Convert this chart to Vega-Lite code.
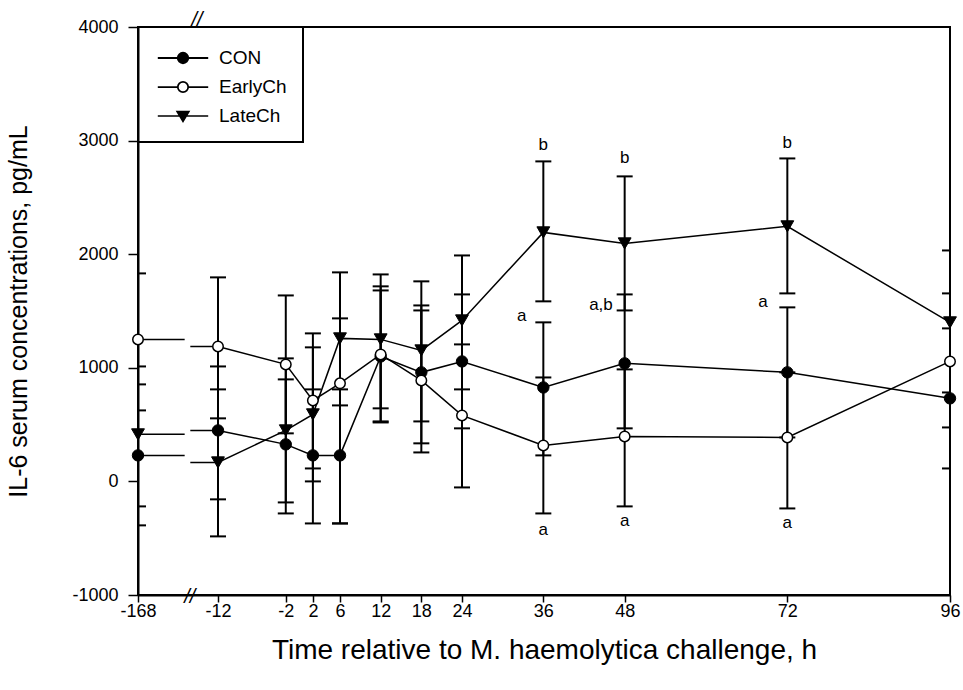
{
  "$schema": "https://vega.github.io/schema/vega-lite/v6.json",
  "width": 812,
  "height": 568,
  "autosize": {"type": "none"},
  "padding": {"left": 138, "top": 27, "right": 13, "bottom": 95},
  "background": "white",
  "datasets": {
    "pts": [
      {"g": "CON", "t": -168, "v": 229, "lo": -387, "hi": 854},
      {"g": "CON", "t": -12, "v": 449, "lo": -158, "hi": 1012},
      {"g": "CON", "t": -2, "v": 326, "lo": -282, "hi": 898},
      {"g": "CON", "t": 2, "v": 229, "lo": -370, "hi": 810},
      {"g": "CON", "t": 6, "v": 229, "lo": -370, "hi": 810},
      {"g": "CON", "t": 12, "v": 1100, "lo": 519, "hi": 1681},
      {"g": "CON", "t": 18, "v": 960, "lo": 335, "hi": 1549},
      {"g": "CON", "t": 24, "v": 1056, "lo": 467, "hi": 1646},
      {"g": "CON", "t": 36, "v": 827, "lo": 229, "hi": 1400},
      {"g": "CON", "t": 48, "v": 1039, "lo": 467, "hi": 1646},
      {"g": "CON", "t": 72, "v": 960, "lo": 387, "hi": 1532},
      {"g": "CON", "t": 96, "v": 731, "lo": 114, "hi": 1347},
      {"g": "EarlyCh", "t": -168, "v": 1250, "lo": 625, "hi": 1831},
      {"g": "EarlyCh", "t": -12, "v": 1188, "lo": 555, "hi": 1796},
      {"g": "EarlyCh", "t": -2, "v": 1030, "lo": 423, "hi": 1637},
      {"g": "EarlyCh", "t": 2, "v": 713, "lo": 114, "hi": 1303},
      {"g": "EarlyCh", "t": 6, "v": 863, "lo": 669, "hi": 1435},
      {"g": "EarlyCh", "t": 12, "v": 1118, "lo": 528, "hi": 1822},
      {"g": "EarlyCh", "t": 18, "v": 889, "lo": 255, "hi": 1505},
      {"g": "EarlyCh", "t": 24, "v": 581, "lo": -53, "hi": 1206},
      {"g": "EarlyCh", "t": 36, "v": 317, "lo": -282, "hi": 915},
      {"g": "EarlyCh", "t": 48, "v": 396, "lo": -220, "hi": 986},
      {"g": "EarlyCh", "t": 72, "v": 387, "lo": -238, "hi": 960},
      {"g": "EarlyCh", "t": 96, "v": 1056, "lo": 475, "hi": 1655},
      {"g": "LateCh", "t": -168, "v": 414, "lo": -220, "hi": 1012},
      {"g": "LateCh", "t": -12, "v": 167, "lo": -484, "hi": 810},
      {"g": "LateCh", "t": -2, "v": 449, "lo": -185, "hi": 1083},
      {"g": "LateCh", "t": 2, "v": 590, "lo": 0, "hi": 1180},
      {"g": "LateCh", "t": 6, "v": 1259, "lo": -370, "hi": 1840},
      {"g": "LateCh", "t": 12, "v": 1250, "lo": 643, "hi": 1717},
      {"g": "LateCh", "t": 18, "v": 1153, "lo": 528, "hi": 1761},
      {"g": "LateCh", "t": 24, "v": 1417, "lo": 810, "hi": 1989},
      {"g": "LateCh", "t": 36, "v": 2192, "lo": 1585, "hi": 2817},
      {"g": "LateCh", "t": 48, "v": 2095, "lo": 1505, "hi": 2685},
      {"g": "LateCh", "t": 72, "v": 2245, "lo": 1655, "hi": 2843},
      {"g": "LateCh", "t": 96, "v": 1400, "lo": 783, "hi": 2033}
    ],
    "ln": [
      {"g": "CON", "s": "L", "t": -168, "v": 229},
      {"g": "CON", "s": "L", "t": -77, "v": 229},
      {"g": "CON", "s": "R", "t": -66, "v": 449},
      {"g": "CON", "s": "R", "t": -12, "v": 449},
      {"g": "CON", "s": "R", "t": -2, "v": 326},
      {"g": "CON", "s": "R", "t": 2, "v": 229},
      {"g": "CON", "s": "R", "t": 6, "v": 229},
      {"g": "CON", "s": "R", "t": 12, "v": 1100},
      {"g": "CON", "s": "R", "t": 18, "v": 960},
      {"g": "CON", "s": "R", "t": 24, "v": 1056},
      {"g": "CON", "s": "R", "t": 36, "v": 827},
      {"g": "CON", "s": "R", "t": 48, "v": 1039},
      {"g": "CON", "s": "R", "t": 72, "v": 960},
      {"g": "CON", "s": "R", "t": 96, "v": 731},
      {"g": "EarlyCh", "s": "L", "t": -168, "v": 1250},
      {"g": "EarlyCh", "s": "L", "t": -77, "v": 1250},
      {"g": "EarlyCh", "s": "R", "t": -66, "v": 1188},
      {"g": "EarlyCh", "s": "R", "t": -12, "v": 1188},
      {"g": "EarlyCh", "s": "R", "t": -2, "v": 1030},
      {"g": "EarlyCh", "s": "R", "t": 2, "v": 713},
      {"g": "EarlyCh", "s": "R", "t": 6, "v": 863},
      {"g": "EarlyCh", "s": "R", "t": 12, "v": 1118},
      {"g": "EarlyCh", "s": "R", "t": 18, "v": 889},
      {"g": "EarlyCh", "s": "R", "t": 24, "v": 581},
      {"g": "EarlyCh", "s": "R", "t": 36, "v": 317},
      {"g": "EarlyCh", "s": "R", "t": 48, "v": 396},
      {"g": "EarlyCh", "s": "R", "t": 72, "v": 387},
      {"g": "EarlyCh", "s": "R", "t": 96, "v": 1056},
      {"g": "LateCh", "s": "L", "t": -168, "v": 414},
      {"g": "LateCh", "s": "L", "t": -77, "v": 414},
      {"g": "LateCh", "s": "R", "t": -66, "v": 167},
      {"g": "LateCh", "s": "R", "t": -12, "v": 167},
      {"g": "LateCh", "s": "R", "t": -2, "v": 449},
      {"g": "LateCh", "s": "R", "t": 2, "v": 590},
      {"g": "LateCh", "s": "R", "t": 6, "v": 1259},
      {"g": "LateCh", "s": "R", "t": 12, "v": 1250},
      {"g": "LateCh", "s": "R", "t": 18, "v": 1153},
      {"g": "LateCh", "s": "R", "t": 24, "v": 1417},
      {"g": "LateCh", "s": "R", "t": 36, "v": 2192},
      {"g": "LateCh", "s": "R", "t": 48, "v": 2095},
      {"g": "LateCh", "s": "R", "t": 72, "v": 2245},
      {"g": "LateCh", "s": "R", "t": 96, "v": 1400}
    ],
    "notes": [
      {"t": 36, "v": 2958, "label": "b"},
      {"t": 32.8, "v": 1452, "label": "a"},
      {"t": 36, "v": -431, "label": "a"},
      {"t": 48, "v": 2843, "label": "b"},
      {"t": 44.5, "v": 1549, "label": "a,b"},
      {"t": 48, "v": -352, "label": "a"},
      {"t": 72, "v": 2975, "label": "b"},
      {"t": 68.4, "v": 1576, "label": "a"},
      {"t": 72, "v": -370, "label": "a"}
    ],
    "brk": [
      {"t": -53, "v": 4058, "label": "//"},
      {"t": -67, "v": -1021, "label": "//"}
    ]
  },
  "encoding": {
    "x": {
      "field": "t",
      "type": "quantitative",
      "scale": {"type": "linear", "domain": [-168, -12, 96], "range": [0, 80, 812], "nice": false, "zero": false},
      "axis": {
        "values": [-168, -12, -2, 2, 6, 12, 18, 24, 36, 48, 72, 96],
        "labelExpr": "'' + datum.value",
        "tickSize": 7,
        "labelPadding": 0,
        "labelFlush": false,
        "labelOverlap": false,
        "labelFontSize": 18,
        "title": "Time relative to M. haemolytica challenge, h",
        "titleFontSize": 28,
        "titlePadding": 16
      }
    }
  },
  "layer": [
    {
      "data": {"name": "pts"},
      "mark": {"type": "rule", "color": "black", "strokeWidth": 2, "clip": true},
      "encoding": {
        "y": {
          "field": "lo",
          "type": "quantitative",
          "scale": {"domain": [-1000, 4000], "nice": false, "zero": false},
          "axis": {"values": [-1000, 0, 1000, 2000, 3000, 4000], "labelExpr": "'' + datum.value", "tickSize": 10, "labelPadding": 10, "labelFontSize": 18, "title": "IL-6 serum concentrations, pg/mL", "titleFontSize": 25, "titlePadding": 40}
        },
        "y2": {"field": "hi"},
        "detail": {"field": "g"}
      }
    },
    {
      "data": {"name": "pts"},
      "mark": {"type": "tick", "orient": "horizontal", "color": "black", "size": 16, "thickness": 2, "opacity": 1, "clip": true},
      "encoding": {
        "y": {"field": "lo", "type": "quantitative", "scale": {"domain": [-1000, 4000], "nice": false, "zero": false},
          "axis": {"values": [-1000, 0, 1000, 2000, 3000, 4000], "labelExpr": "'' + datum.value", "tickSize": 10, "labelPadding": 10, "labelFontSize": 18, "title": "IL-6 serum concentrations, pg/mL", "titleFontSize": 25, "titlePadding": 40}},
        "detail": {"field": "g"}
      }
    },
    {
      "data": {"name": "pts"},
      "mark": {"type": "tick", "orient": "horizontal", "color": "black", "size": 16, "thickness": 2, "opacity": 1, "clip": true},
      "encoding": {
        "y": {"field": "hi", "type": "quantitative", "scale": {"domain": [-1000, 4000], "nice": false, "zero": false},
          "axis": {"values": [-1000, 0, 1000, 2000, 3000, 4000], "labelExpr": "'' + datum.value", "tickSize": 10, "labelPadding": 10, "labelFontSize": 18, "title": "IL-6 serum concentrations, pg/mL", "titleFontSize": 25, "titlePadding": 40}},
        "detail": {"field": "g"}
      }
    },
    {
      "data": {"name": "ln"},
      "mark": {"type": "line", "color": "black", "strokeWidth": 1.5},
      "encoding": {
        "y": {"field": "v", "type": "quantitative", "scale": {"domain": [-1000, 4000], "nice": false, "zero": false},
          "axis": {"values": [-1000, 0, 1000, 2000, 3000, 4000], "labelExpr": "'' + datum.value", "tickSize": 10, "labelPadding": 10, "labelFontSize": 18, "title": "IL-6 serum concentrations, pg/mL", "titleFontSize": 25, "titlePadding": 40}},
        "detail": [{"field": "g"}, {"field": "s"}],
        "order": {"field": "t", "type": "quantitative"}
      }
    },
    {
      "data": {"name": "pts"},
      "transform": [{"filter": "datum.g === 'CON'"}],
      "mark": {"type": "point", "shape": "circle", "filled": true, "fill": "black", "stroke": "black", "strokeWidth": 1, "size": 130, "opacity": 1},
      "encoding": {
        "y": {"field": "v", "type": "quantitative", "scale": {"domain": [-1000, 4000], "nice": false, "zero": false},
          "axis": {"values": [-1000, 0, 1000, 2000, 3000, 4000], "labelExpr": "'' + datum.value", "tickSize": 10, "labelPadding": 10, "labelFontSize": 18, "title": "IL-6 serum concentrations, pg/mL", "titleFontSize": 25, "titlePadding": 40}}
      }
    },
    {
      "data": {"name": "pts"},
      "transform": [{"filter": "datum.g === 'EarlyCh'"}],
      "mark": {"type": "point", "shape": "circle", "filled": true, "fill": "white", "stroke": "black", "strokeWidth": 1.5, "size": 110, "opacity": 1},
      "encoding": {
        "y": {"field": "v", "type": "quantitative", "scale": {"domain": [-1000, 4000], "nice": false, "zero": false},
          "axis": {"values": [-1000, 0, 1000, 2000, 3000, 4000], "labelExpr": "'' + datum.value", "tickSize": 10, "labelPadding": 10, "labelFontSize": 18, "title": "IL-6 serum concentrations, pg/mL", "titleFontSize": 25, "titlePadding": 40}}
      }
    },
    {
      "data": {"name": "pts"},
      "transform": [{"filter": "datum.g === 'LateCh'"}],
      "mark": {"type": "point", "shape": "triangle-down", "filled": true, "fill": "black", "stroke": "black", "strokeWidth": 1, "size": 165, "opacity": 1},
      "encoding": {
        "y": {"field": "v", "type": "quantitative", "scale": {"domain": [-1000, 4000], "nice": false, "zero": false},
          "axis": {"values": [-1000, 0, 1000, 2000, 3000, 4000], "labelExpr": "'' + datum.value", "tickSize": 10, "labelPadding": 10, "labelFontSize": 18, "title": "IL-6 serum concentrations, pg/mL", "titleFontSize": 25, "titlePadding": 40}}
      }
    },
    {
      "data": {"name": "notes"},
      "mark": {"type": "text", "font": "Liberation Sans", "fontSize": 17, "color": "black", "align": "center", "baseline": "middle"},
      "encoding": {
        "y": {"field": "v", "type": "quantitative", "scale": {"domain": [-1000, 4000], "nice": false, "zero": false},
          "axis": {"values": [-1000, 0, 1000, 2000, 3000, 4000], "labelExpr": "'' + datum.value", "tickSize": 10, "labelPadding": 10, "labelFontSize": 18, "title": "IL-6 serum concentrations, pg/mL", "titleFontSize": 25, "titlePadding": 40}},
        "text": {"field": "label"}
      }
    },
    {
      "data": {"name": "brk"},
      "mark": {"type": "text", "font": "Liberation Sans", "fontSize": 20, "fontStyle": "italic", "color": "black", "align": "center", "baseline": "middle"},
      "encoding": {
        "y": {"field": "v", "type": "quantitative", "scale": {"domain": [-1000, 4000], "nice": false, "zero": false},
          "axis": {"values": [-1000, 0, 1000, 2000, 3000, 4000], "labelExpr": "'' + datum.value", "tickSize": 10, "labelPadding": 10, "labelFontSize": 18, "title": "IL-6 serum concentrations, pg/mL", "titleFontSize": 25, "titlePadding": 40}},
        "text": {"field": "label"}
      }
    },
    {
      "data": {"name": "pts"},
      "transform": [{"filter": "datum.g === 'none'"}],
      "mark": {"type": "point", "filled": true, "opacity": 1},
      "encoding": {
        "shape": {
          "field": "g",
          "type": "nominal",
          "scale": {
            "domain": ["CON", "EarlyCh", "LateCh"],
            "range": [
              "M-1.8,0H-0.37M0.37,0H1.8M0.37,0A0.37,0.37,0,1,1,-0.37,0A0.37,0.37,0,1,1,0.37,0Z",
              "M-1.8,0H-0.37M0.37,0H1.8M0.37,0A0.37,0.37,0,1,1,-0.37,0A0.37,0.37,0,1,1,0.37,0Z",
              "M-1.8,0H1.8M-0.43,-0.32L0.43,-0.32L0,0.4Z"
            ]
          },
          "legend": {"title": null}
        },
        "fill": {
          "field": "g",
          "type": "nominal",
          "scale": {"domain": ["CON", "EarlyCh", "LateCh"], "range": ["black", "white", "black"]},
          "legend": {"title": null}
        },
        "stroke": {
          "field": "g",
          "type": "nominal",
          "scale": {"domain": ["CON", "EarlyCh", "LateCh"], "range": ["black", "black", "black"]},
          "legend": {"title": null}
        },
        "strokeWidth": {
          "field": "g",
          "type": "ordinal",
          "scale": {"domain": ["CON", "EarlyCh", "LateCh"], "range": [2, 1.5, 4]},
          "legend": {"title": null}
        }
      }
    }
  ],
  "config": {
    "font": "Liberation Sans",
    "view": {"stroke": "black", "strokeWidth": 2},
    "axis": {
      "domainColor": "black",
      "domainWidth": 2,
      "tickColor": "black",
      "tickWidth": 1.5,
      "labelColor": "black",
      "titleColor": "black",
      "grid": false,
      "labelFont": "Liberation Sans",
      "titleFont": "Liberation Sans",
      "titleFontWeight": "normal"
    },
    "legend": {
      "orient": "top-left",
      "offset": 0,
      "padding": 16,
      "strokeColor": "black",
      "strokeWidth": 2,
      "symbolSize": 784,
      "symbolOffset": 14,
      "labelOffset": 21,
      "labelFontSize": 19,
      "labelFont": "Liberation Sans",
      "labelColor": "black",
      "rowPadding": 4
    }
  }
}
